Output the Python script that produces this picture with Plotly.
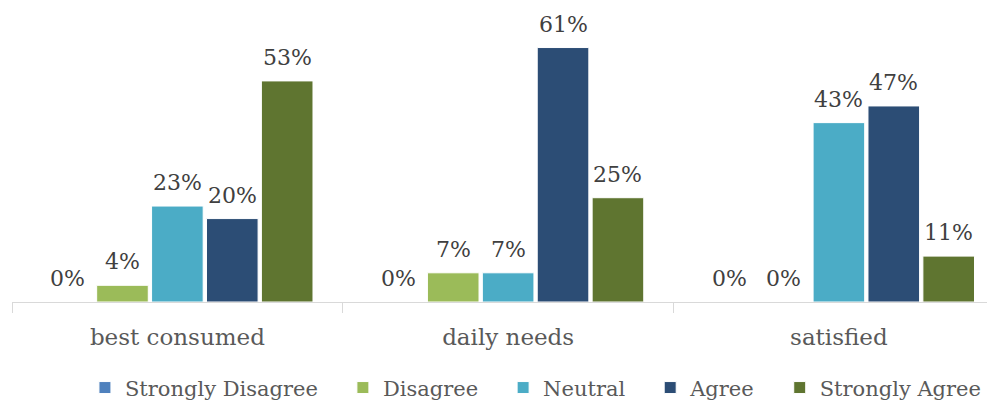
import plotly.graph_objects as go

categories = ["best consumed", "daily needs", "satisfied"]
series_names = ["Strongly Disagree", "Disagree", "Neutral", "Agree", "Strongly Agree"]
strongly_disagree = [0, 0, 0]
disagree = [4, 7, 0]
neutral = [23, 7, 43]
agree = [20, 61, 47]
strongly_agree = [53, 25, 11]

values = [strongly_disagree, disagree, neutral, agree, strongly_agree]
colors = ["#4F81BD", "#9BBB59", "#4BACC6", "#2C4D75", "#5F7530"]

FONT = "DejaVu Serif"
PAD = "\u00a0" * 3  # widen gaps between legend entries
SLOT = 54.9  # px between neighbouring bars in a group

fig = go.Figure()
for i, (name, vals, color) in enumerate(zip(series_names, values, colors)):
    fig.add_trace(go.Bar(
        x=categories,
        y=vals,
        name=name + (PAD if i < len(series_names) - 1 else ""),
        marker_color=color,
        marker_line=dict(color="white", width=1),
    ))
    # value labels sit a bit higher above the bars than plotly's outside text
    for cat, v in zip(categories, vals):
        fig.add_annotation(
            x=cat, y=v, text=f"{v}%",
            xshift=(i - 2) * SLOT, yshift=9,
            yanchor="bottom", showarrow=False,
            font=dict(family=FONT, size=22, color="#404040"),
        )

# page body adds an 8px margin, so the figure is sized to fit the window
fig.update_layout(
    width=987,
    height=402,
    margin=dict(l=4, r=0, t=2, b=108),
    plot_bgcolor="white",
    paper_bgcolor="white",
    barmode="group",
    bargap=0.17,
    bargroupgap=0.06,
    font=dict(family=FONT, size=21, color="#595959"),
    showlegend=True,
    legend=dict(
        orientation="h",
        x=0.533, xanchor="center",
        y=-0.224, yanchor="top",
        font=dict(family=FONT, size=21, color="#595959"),
        itemwidth=30,
    ),
    xaxis=dict(
        type="category",
        range=[-0.5, 2.472],
        showline=True,
        linecolor="#d9d9d9",
        linewidth=1,
        ticks="outside",
        tickson="boundaries",
        ticklen=10,
        tickcolor="#d9d9d9",
        ticklabelstandoff=14,
        tickfont=dict(family=FONT, size=23, color="#595959"),
        showgrid=False,
    ),
    yaxis=dict(
        range=[0, 70],
        visible=False,
        showgrid=False,
        zeroline=False,
    ),
)

fig.write_html("out.html")
